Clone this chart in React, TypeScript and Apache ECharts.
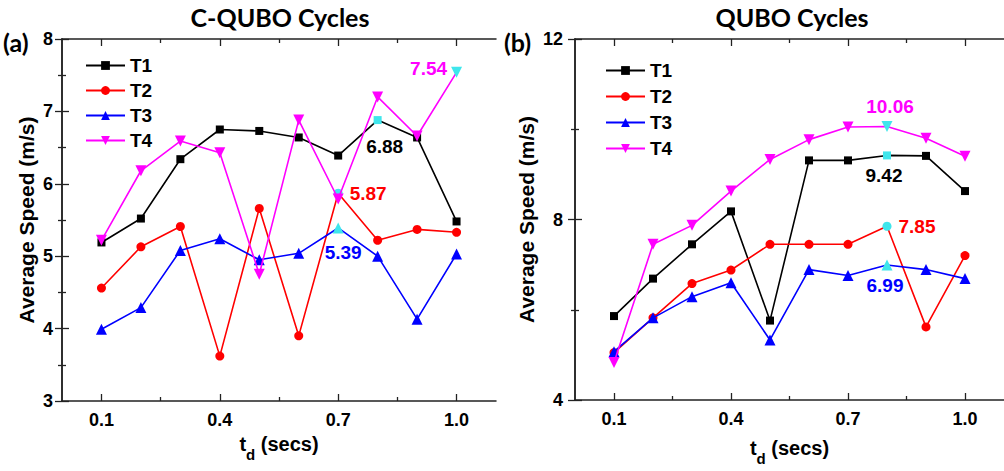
import React, { useEffect, useRef } from "react";
import * as echarts from "echarts";

const tdValues = [0.1, 0.2, 0.3, 0.4, 0.5, 0.6, 0.7, 0.8, 0.9, 1.0];
const seriesNames = ["T1", "T2", "T3", "T4"];

// (a) C-QUBO Cycles
const cquboT1 = [5.19, 5.52, 6.34, 6.75, 6.73, 6.64, 6.39, 6.88, 6.64, 5.48];
const cquboT2 = [4.56, 5.13, 5.41, 3.62, 5.66, 3.9, 5.87, 5.22, 5.37, 5.33];
const cquboT3 = [3.99, 4.29, 5.08, 5.24, 4.95, 5.04, 5.39, 5.0, 4.13, 5.03];
const cquboT4 = [5.22, 6.18, 6.59, 6.43, 4.75, 6.88, 5.79, 7.2, 6.66, 7.54];

// (b) QUBO Cycles
const quboT1 = [5.86, 6.69, 7.45, 8.18, 5.76, 9.31, 9.31, 9.42, 9.41, 8.63];
const quboT2 = [5.05, 5.82, 6.58, 6.88, 7.45, 7.45, 7.45, 7.85, 5.62, 7.2];
const quboT3 = [5.07, 5.82, 6.29, 6.6, 5.33, 6.89, 6.76, 6.99, 6.89, 6.69];
const quboT4 = [4.83, 7.45, 7.87, 8.63, 9.33, 9.77, 10.05, 10.06, 9.8, 9.4];

const xMajorTicks = [0.1, 0.4, 0.7, 1.0];
const xMinorTicks = [0.25, 0.55, 0.85];

const COLORS = ["#000000", "#ff0000", "#0000ff", "#ff00ff"];
const HIGHLIGHT = "#3fe6ec";
const SYMBOLS = ["rect", "circle", "triangle", "triangle"];
const SYMBOL_SIZES = [8, 9, 11, 11];
const SYMBOL_ROT = [0, 0, 0, 180];
const FONT = "'Liberation Sans', Arial, sans-serif";
const TITLE_FONT = "Lato, 'Open Sans', sans-serif";

const labelOffsetsA = [[7, 26], [30, 0], [5, 25], [-28, -4]];
const labelOffsetsB = [[-3, 20], [30, 0], [-2, 20], [3, -20]];

function buildSeries(
  data: number[][],
  xAxisIndex: number,
  yAxisIndex: number,
  offsets: number[][]
) {
  return data.map((vals, si) => {
    const maxV = Math.max(...vals);
    const maxI = vals.indexOf(maxV);
    return {
      type: "line",
      name: seriesNames[si],
      xAxisIndex,
      yAxisIndex,
      symbol: SYMBOLS[si],
      symbolSize: SYMBOL_SIZES[si],
      symbolRotate: SYMBOL_ROT[si],
      showAllSymbol: true,
      lineStyle: { color: COLORS[si], width: 1.6 },
      itemStyle: { color: COLORS[si] },
      z: 2 + si,
      data: vals.map((v, i) => {
        if (i !== maxI) return [tdValues[i], v];
        return {
          value: [tdValues[i], v],
          itemStyle: { color: HIGHLIGHT },
          label: {
            show: true,
            position: "inside",
            offset: offsets[si],
            formatter: v.toFixed(2),
            color: COLORS[si],
            fontSize: 19,
            fontWeight: "bold",
            fontFamily: FONT,
          },
        };
      }),
    };
  });
}

function xAxes(gridIndex: number, nameGap: number) {
  const line = { show: true, lineStyle: { color: "#222", width: 1.5 } };
  const base = {
    gridIndex,
    type: "value",
    min: 0,
    max: 1.1,
    splitLine: { show: false },
  };
  return [
    {
      ...base,
      position: "bottom",
      axisLine: line,
      axisTick: { show: true, inside: true, length: 7, customValues: xMajorTicks, lineStyle: { color: "#222", width: 1.3 } },
      axisLabel: {
        show: true,
        customValues: xMajorTicks,
        formatter: (v: number) => v.toFixed(1),
        margin: 10,
        fontSize: 18,
        fontWeight: "bold",
        fontFamily: FONT,
        color: "#000",
      },
      name: "{t|t}{d|d}{t| (secs)}",
      nameLocation: "middle",
      nameGap,
      nameTextStyle: {
        rich: {
          t: { fontSize: 20, fontWeight: "bold", fontFamily: FONT, color: "#000", lineHeight: 28, verticalAlign: "top" },
          d: { fontSize: 15, fontWeight: "bold", fontFamily: FONT, color: "#000", lineHeight: 15, verticalAlign: "bottom" },
        },
      },
    },
    {
      ...base,
      position: "bottom",
      axisLine: { show: false },
      axisTick: { show: true, inside: true, length: 4, customValues: xMinorTicks, lineStyle: { color: "#222", width: 1.3 } },
      axisLabel: { show: false },
    },
    {
      ...base,
      position: "top",
      axisLine: line,
      axisTick: { show: true, inside: true, length: 7, customValues: xMajorTicks, lineStyle: { color: "#222", width: 1.3 } },
      axisLabel: { show: false },
    },
    {
      ...base,
      position: "top",
      axisLine: { show: false },
      axisTick: { show: true, inside: true, length: 4, customValues: xMinorTicks, lineStyle: { color: "#222", width: 1.3 } },
      axisLabel: { show: false },
    },
  ];
}

function yAxes(gridIndex: number, min: number, max: number, interval: number, labelMargin: number, nameGap: number) {
  const common = {
    gridIndex,
    type: "value",
    min,
    max,
    interval,
    splitLine: { show: false },
    axisLine: { show: true, lineStyle: { color: "#222", width: 1.5 } },
    axisTick: { show: true, inside: true, length: 7, lineStyle: { color: "#222", width: 1.3 } },
    minorTick: { show: true, splitNumber: 2, length: 4, lineStyle: { color: "#222", width: 1.3 } },
  };
  return [
    {
      ...common,
      position: "left",
      axisLabel: {
        show: true,
        margin: labelMargin,
        fontSize: 18,
        fontWeight: "bold",
        fontFamily: FONT,
        color: "#000",
        showMinLabel: true,
        showMaxLabel: true,
      },
      name: "Average Speed (m/s)",
      nameLocation: "middle",
      nameGap,
      nameTextStyle: { fontSize: 21, fontWeight: "bold", fontFamily: FONT, color: "#000" },
    },
    {
      ...common,
      position: "right",
      axisLabel: { show: false },
    },
  ];
}

export default function App() {
  const ref = useRef<HTMLDivElement>(null);

  useEffect(() => {
    if (!ref.current) return;
    const chart = echarts.init(ref.current, undefined, { renderer: "svg" });

    const legendCommon = {
      orient: "vertical",
      itemWidth: 39,
      itemHeight: 11,
      data: seriesNames,
      textStyle: { fontSize: 19, fontWeight: "bold", fontFamily: FONT, color: "#000" },
      selectedMode: false,
    };

    const titleStyle = { fontSize: 25, fontWeight: "bold", fontFamily: TITLE_FONT, fill: "#000" };

    const option = {
      animation: false,
      backgroundColor: "#ffffff",
      grid: [
        { left: 62, top: 39, width: 434, height: 362 },
        { left: 575, top: 39, width: 434, height: 362 },
      ],
      xAxis: [...xAxes(0, 30), ...xAxes(1, 38)],
      yAxis: [...yAxes(0, 3, 8, 1, 9, 25), ...yAxes(1, 4, 12, 4, 12, 38)],
      legend: [
        { ...legendCommon, left: 80, top: 51, itemGap: 6 },
        { ...legendCommon, left: 600, top: 56, itemGap: 7 },
      ],
      graphic: [
        { type: "text", x: 280, y: 17, style: { ...titleStyle, text: "C-QUBO Cycles", align: "center", verticalAlign: "middle" } },
        { type: "text", x: 792, y: 17, style: { ...titleStyle, text: "QUBO Cycles", align: "center", verticalAlign: "middle" } },
        { type: "text", x: 3, y: 42, style: { ...titleStyle, text: "(a)", align: "left", verticalAlign: "middle" } },
        { type: "text", x: 504, y: 42, style: { ...titleStyle, text: "(b)", align: "left", verticalAlign: "middle" } },
      ],
      series: [
        ...buildSeries([cquboT1, cquboT2, cquboT3, cquboT4], 0, 0, labelOffsetsA),
        ...buildSeries([quboT1, quboT2, quboT3, quboT4], 4, 2, labelOffsetsB),
      ],
    };

    chart.setOption(option as any);
    return () => chart.dispose();
  }, []);

  return (
    <div
      ref={ref}
      style={{ position: "fixed", left: 0, top: 0, width: 1004, height: 471, background: "#fff" }}
    />
  );
}
